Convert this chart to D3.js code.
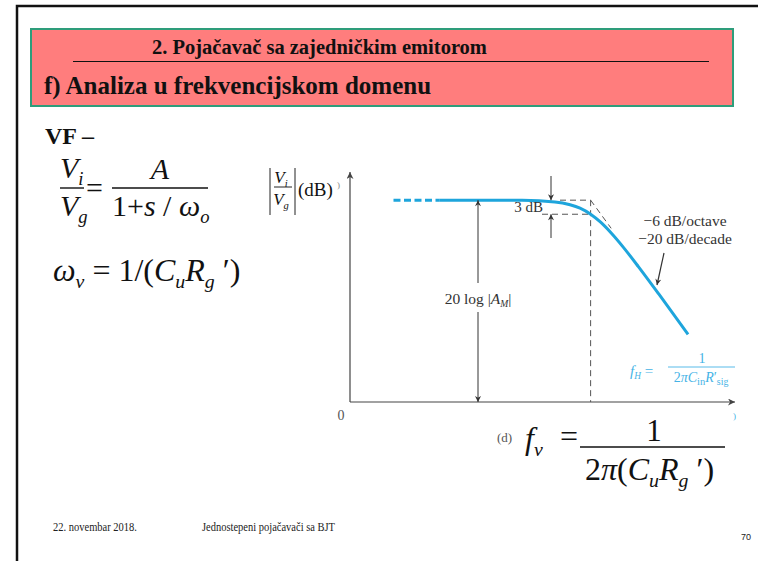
<!DOCTYPE html>
<html>
<head>
<meta charset="utf-8">
<script src="https://cdn.jsdelivr.net/npm/d3@7"></script>
<style>
  html, body { margin: 0; padding: 0; background: #fff; }
  svg { display: block; }
  text { font-family: "Liberation Serif", "Times New Roman", serif; }
</style>
</head>
<body>
<svg id="slide" width="758" height="561"></svg>
<script>
// Frequency response of the common-emitter stage (high-frequency roll-off)
// Frequency as ratio f / fH, magnitude in dB
const flatRatio = [0.0013, 0.0062];
const flatDb = [43, 43];
const freqRatio = [0.0062, 0.1, 0.3, 0.5, 0.7, 1, 1.4, 2, 3, 5, 10, 26.7];
const gainDb = [43, 42.96, 42.63, 42.03, 41.29, 40.0, 38.3, 36.0, 33.0, 28.85, 22.96, 14.4];
// -20 dB/decade asymptote starting at the corner frequency
const asymRatio = [1, 2];
const asymDb = [43, 37];
const midbandDb = 43;
const cornerRatio = 1;
const dropDb = 3;

const svg = d3.select("#slide");

// slide frame
svg.append("path")
  .attr("d", "M17,562V6H759")
  .attr("fill", "none").attr("stroke", "#111").attr("stroke-width", 2.5);

// header box
svg.append("rect")
  .attr("x", 31).attr("y", 29).attr("width", 702).attr("height", 77)
  .attr("fill", "#ff7d7d").attr("stroke", "#2e9d7b").attr("stroke-width", 2);
svg.append("text")
  .attr("x", 152).attr("y", 54)
  .attr("font-size", 20.5).attr("font-weight", "bold").attr("fill", "#111")
  .text("2. Pojačavač sa zajedničkim emitorom");
svg.append("line")
  .attr("x1", 73).attr("x2", 709).attr("y1", 61.5).attr("y2", 61.5)
  .attr("stroke", "#111").attr("stroke-width", 1);
svg.append("text")
  .attr("x", 44).attr("y", 94)
  .attr("font-size", 25).attr("font-weight", "bold").attr("fill", "#111")
  .text("f) Analiza u frekvencijskom domenu");

svg.append("text")
  .attr("x", 45).attr("y", 144)
  .attr("font-size", 24).attr("font-weight", "bold").attr("fill", "#111")
  .text("VF –");

// helper: text with sub/normal/italic runs
function rich(x, y, size, parts, opts = {}) {
  const t = svg.append("text").attr("x", x).attr("y", y)
    .attr("font-size", size).attr("fill", opts.fill || "#111");
  if (opts.anchor) t.attr("text-anchor", opts.anchor);
  parts.forEach(p => {
    const s = t.append("tspan").text(p.t);
    if (p.i) s.attr("font-style", "italic");
    if (p.sub) {
      s.attr("font-size", size * (p.scale || 0.62)).attr("dy", size * 0.22);
    }
    if (p.up) s.attr("dy", -size * 0.22);
  });
  return t;
}
function bar(x1, x2, y, w, color) {
  svg.append("line").attr("x1", x1).attr("x2", x2).attr("y1", y).attr("y2", y)
    .attr("stroke", color || "#111").attr("stroke-width", w || 1.4);
}

// Vi / Vg = A / (1 + s/wo)
rich(60, 178, 30, [{t: "V", i: true}, {t: "i", i: true, sub: true}]);
bar(60, 84, 188);
rich(60, 216, 30, [{t: "V", i: true}, {t: "g", i: true, sub: true}]);
rich(86, 198, 30, [{t: "="}]);
rich(160, 179, 30, [{t: "A", i: true}], {anchor: "middle"});
bar(112, 208, 188);
rich(112, 216, 30, [{t: "1+"}, {t: "s", i: true}, {t: " / "}, {t: "ω", i: true}, {t: "o", i: true, sub: true}]);

// wv = 1/(Cu Rg')
rich(53, 281, 32, [{t: "ω", i: true}, {t: "v", i: true, sub: true}, {t: " = 1/(", up: true},
  {t: "C", i: true}, {t: "u", i: true, sub: true}, {t: "R", i: true, up: true}, {t: "g", i: true, sub: true}, {t: "  ′)", up: true}]);

// ---- Bode plot ----
const x = d3.scaleLog().domain([0.0003, 130]).range([350, 735]);
const y = d3.scaleLinear().domain([0, 49]).range([402, 172]);
const axisColor = "#444";

const defs = svg.append("defs");
function marker(id, color, w, h) {
  defs.append("marker").attr("id", id)
    .attr("viewBox", "0 0 10 10").attr("refX", 10).attr("refY", 5)
    .attr("markerUnits", "userSpaceOnUse")
    .attr("markerWidth", w).attr("markerHeight", h)
    .attr("orient", "auto-start-reverse")
    .append("path").attr("d", "M0,0L10,5L0,10L3,5z").attr("fill", color);
}
marker("ax", axisColor, 12, 7);
marker("ar", "#333", 9, 6);

// axes
svg.append("line")
  .attr("x1", x.range()[0]).attr("x2", x.range()[1])
  .attr("y1", y(0)).attr("y2", y(0))
  .attr("stroke", axisColor).attr("stroke-width", 1.2).attr("marker-end", "url(#ax)");
svg.append("line")
  .attr("x1", x.range()[0]).attr("x2", x.range()[0])
  .attr("y1", y(0)).attr("y2", y.range()[1])
  .attr("stroke", axisColor).attr("stroke-width", 1.2).attr("marker-end", "url(#ax)");
svg.append("text").attr("x", x.range()[0] - 9).attr("y", y(0) + 18)
  .attr("text-anchor", "middle").attr("font-size", 14).attr("fill", "#555").text("0");

// y-axis label |Vi/Vg| (dB)
svg.append("line").attr("x1", 270).attr("x2", 270).attr("y1", 168).attr("y2", 215)
  .attr("stroke", "#222").attr("stroke-width", 1);
svg.append("line").attr("x1", 295).attr("x2", 295).attr("y1", 168).attr("y2", 215)
  .attr("stroke", "#222").attr("stroke-width", 1);
rich(281, 183, 17, [{t: "V", i: true}, {t: "i", i: true, sub: true}], {anchor: "middle"});
bar(274, 292, 187, 1, "#222");
rich(281, 205, 17, [{t: "V", i: true}, {t: "g", i: true, sub: true}], {anchor: "middle"});
rich(298, 196, 19, [{t: "(dB)"}]);
rich(337, 188, 9, [{t: ")"}], {fill: "#888"});

// guide lines around the corner frequency
const guide = svg.append("g").attr("stroke", "#555").attr("stroke-width", 1)
  .attr("stroke-dasharray", "6,4").attr("fill", "none");
guide.append("line").attr("x1", x(cornerRatio)).attr("x2", x(cornerRatio))
  .attr("y1", y(midbandDb)).attr("y2", y(0));
guide.append("line").attr("x1", 560).attr("x2", x(cornerRatio))
  .attr("y1", y(midbandDb)).attr("y2", y(midbandDb));
guide.append("line").attr("x1", 542).attr("x2", x(cornerRatio))
  .attr("y1", y(midbandDb - dropDb)).attr("y2", y(midbandDb - dropDb));
const lineGen = d3.line().x(d => x(d[0])).y(d => y(d[1]));
guide.append("path").attr("d", lineGen(d3.zip(asymRatio, asymDb)));

// response curve
const curve = d3.line().x(d => x(d[0])).y(d => y(d[1])).curve(d3.curveMonotoneX);
svg.append("path").attr("d", curve(d3.zip(flatRatio, flatDb)))
  .attr("fill", "none").attr("stroke", "#1ea5dc").attr("stroke-width", 3)
  .attr("stroke-dasharray", "7,3.5");
svg.append("path").attr("d", curve(d3.zip(freqRatio, gainDb)))
  .attr("fill", "none").attr("stroke", "#1ea5dc").attr("stroke-width", 3);

// 20 log |AM| dimension arrow
const ax = 478;
svg.append("line").attr("x1", ax).attr("x2", ax).attr("y1", 283).attr("y2", y(midbandDb))
  .attr("stroke", "#333").attr("stroke-width", 1).attr("marker-end", "url(#ar)");
svg.append("line").attr("x1", ax).attr("x2", ax).attr("y1", 312).attr("y2", y(0))
  .attr("stroke", "#333").attr("stroke-width", 1).attr("marker-end", "url(#ar)");
rich(ax, 304, 15.5, [{t: "20 log |"}, {t: "A", i: true}, {t: "M", i: true, sub: true}, {t: "|", up: true}],
  {anchor: "middle", fill: "#333"});

// 3 dB markers
svg.append("line").attr("x1", 551).attr("x2", 551).attr("y1", 176).attr("y2", y(midbandDb))
  .attr("stroke", "#333").attr("stroke-width", 1).attr("marker-end", "url(#ar)");
svg.append("line").attr("x1", 551).attr("x2", 551).attr("y1", 238).attr("y2", y(midbandDb - dropDb))
  .attr("stroke", "#333").attr("stroke-width", 1).attr("marker-end", "url(#ar)");
svg.append("text").attr("x", 543).attr("y", 212).attr("text-anchor", "end")
  .attr("font-size", 15).attr("fill", "#333").text("3 dB");

// slope annotation
svg.append("text").attr("x", 685).attr("y", 226).attr("text-anchor", "middle")
  .attr("font-size", 15.5).attr("fill", "#333").text("−6 dB/octave");
svg.append("text").attr("x", 685).attr("y", 244).attr("text-anchor", "middle")
  .attr("font-size", 15.5).attr("fill", "#333").text("−20 dB/decade");
svg.append("line").attr("x1", 664).attr("x2", 657).attr("y1", 253).attr("y2", 285)
  .attr("stroke", "#333").attr("stroke-width", 1.2).attr("marker-end", "url(#ar)");

// fH = 1 / (2π Cin R'sig)
const fhColor = "#45b3e6";
rich(630, 376, 15, [{t: "f", i: true}, {t: "H", i: true, sub: true}, {t: " =", up: true}], {fill: fhColor});
rich(702, 363, 14, [{t: "1"}], {anchor: "middle", fill: fhColor});
bar(668, 735, 367, 0.9, fhColor);
rich(701, 382, 14, [{t: "2"}, {t: "π", i: true}, {t: "C", i: true}, {t: "in", sub: true, scale: 0.75},
  {t: "R", i: true, up: true}, {t: "′"}, {t: "sig", sub: true, scale: 0.7}], {anchor: "middle", fill: fhColor});
rich(733, 419, 9, [{t: ")"}], {fill: fhColor});

// fv = 1 / (2π (Cu Rg'))
rich(497, 442, 13, [{t: "(d)"}], {fill: "#555"});
rich(525, 449, 32, [{t: "f", i: true}, {t: "v", i: true, sub: true}]);
rich(560, 447, 32, [{t: "="}]);
rich(654, 441, 31, [{t: "1"}], {anchor: "middle"});
bar(580, 725, 447, 1.5);
rich(585, 480, 32, [{t: "2"}, {t: "π", i: true}, {t: "("}, {t: "C", i: true}, {t: "u", i: true, sub: true},
  {t: "R", i: true, up: true}, {t: "g", i: true, sub: true}, {t: " ′)", up: true}]);

// footer
svg.append("text").attr("x", 53).attr("y", 531).attr("font-size", 13).attr("fill", "#222")
  .attr("textLength", 84).attr("lengthAdjust", "spacingAndGlyphs")
  .text("22. novembar 2018.");
svg.append("text").attr("x", 202).attr("y", 531).attr("font-size", 13).attr("fill", "#222")
  .attr("textLength", 133).attr("lengthAdjust", "spacingAndGlyphs")
  .text("Jednostepeni pojačavači sa BJT");
svg.append("text").attr("x", 746).attr("y", 540).attr("text-anchor", "middle")
  .attr("font-size", 9).attr("fill", "#222")
  .style("font-family", "'Liberation Sans', Arial, sans-serif").text("70");
</script>
</body>
</html>
